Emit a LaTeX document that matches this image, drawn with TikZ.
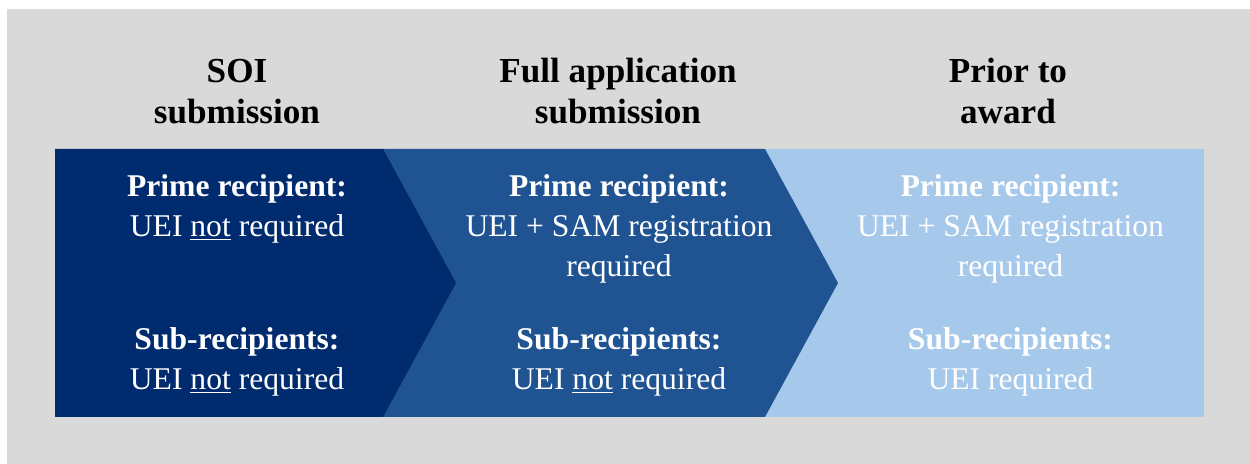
\documentclass[tikz,border=0pt]{standalone}
\usepackage{fontspec}
\setmainfont{Liberation Serif}
\usetikzlibrary{positioning}
\definecolor{navy}{RGB}{0,43,110}
\definecolor{midblue}{RGB}{31,83,145}
\definecolor{paleblue}{RGB}{166,201,235}
\definecolor{panel}{RGB}{217,217,217}

\begin{document}
\begin{tikzpicture}[
    head/.style={font=\bfseries\fontsize{20}{23.8}\selectfont, align=center,
                 anchor=base, inner sep=0pt},
    body/.style={text=white, font=\fontsize{18}{22.8}\selectfont, align=center,
                 anchor=base, inner sep=0pt}]

    \useasboundingbox (0,0) rectangle (25,9.28);
    \fill[panel] (0.14,0) rectangle (25,9.1);

    % chevron band
    \fill[paleblue] (1.1,0.94) rectangle (24.08,6.3);
    \fill[midblue] (7.66,6.3) -- (15.3,6.3) -- (16.76,3.62) -- (15.3,0.94) -- (7.66,0.94) -- cycle;
    \fill[navy] (1.1,6.3) -- (7.66,6.3) -- (9.12,3.62) -- (7.66,0.94) -- (1.1,0.94) -- cycle;

    % headings (base = last line)
    \node[head] (soi) at (4.74,6.8) {SOI\\submission};
    \node[head] (full) at (12.36,6.8) {Full application\\submission};
    \node[head] (prior) at (20.16,6.8) {Prior to\\award};

    % stage texts
    \node[body] (soiprime) at (4.74,4.54) {\textbf{Prime recipient:}\\UEI \underline{not} required};
    \node[body] (soisub) at (4.74,1.48) {\textbf{Sub-recipients:}\\UEI \underline{not} required};
    \node[body] (fullprime) at (12.38,3.74) {\textbf{Prime recipient:}\\UEI + SAM registration\\required};
    \node[body] (fullsub) at (12.38,1.48) {\textbf{Sub-recipients:}\\UEI \underline{not} required};
    \node[body] (priorprime) at (20.21,3.74) {\textbf{Prime recipient:}\\UEI + SAM registration\\required};
    \node[body] (priorsub) at (20.21,1.48) {\textbf{Sub-recipients:}\\UEI required};
\end{tikzpicture}
\end{document}
